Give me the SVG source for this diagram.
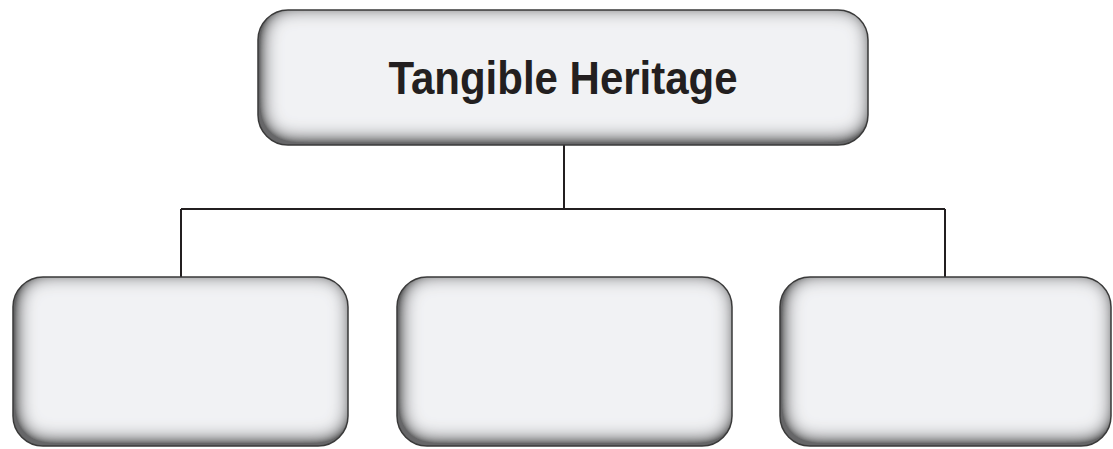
<svg xmlns="http://www.w3.org/2000/svg" width="1113" height="449" viewBox="0 0 1113 449">
<defs>
<filter id="inset" x="-10%" y="-15%" width="120%" height="130%">
<feComponentTransfer in="SourceAlpha" result="inv"><feFuncA type="table" tableValues="1 0"/></feComponentTransfer>
<feGaussianBlur in="inv" stdDeviation="10" result="blur"/>
<feOffset in="blur" dx="3" dy="-4" result="off"/>
<feComponentTransfer in="off" result="offs"><feFuncA type="linear" slope="1.8" intercept="0"/></feComponentTransfer>
<feFlood flood-color="#000" flood-opacity="0.85"/>
<feComposite in2="offs" operator="in" result="sh"/>
<feComposite in="sh" in2="SourceAlpha" operator="in" result="ish"/>
<feMerge><feMergeNode in="SourceGraphic"/><feMergeNode in="ish"/></feMerge>
</filter>
</defs>
<style>
.box{fill:#f1f2f4;filter:url(#inset)}
.edge{fill:none;stroke:#3a3a3a;stroke-width:1.5}
.conn{fill:none;stroke:#231f20;stroke-width:2}
.label{font-family:"Liberation Sans",Arial,sans-serif;font-weight:bold;font-size:42px;fill:#231f20;text-anchor:middle}
</style>
<rect width="1113" height="449" fill="#ffffff"/>
<g id="connectors">
<path class="conn" d="M564 145 V209 M181 209 H945 M181 209 V277 M945 209 V277"/>
</g>
<g id="node-top">
<rect class="box" x="258" y="10" width="610" height="135" rx="30"/>
<rect class="edge" x="258" y="10" width="610" height="135" rx="30"/>
<text class="label" x="563" y="94" transform="translate(563 94) scale(1 1.08) translate(-563 -94)">Tangible Heritage</text>
</g>
<g id="node-left">
<rect class="box" x="13" y="277" width="335" height="169" rx="30"/>
<rect class="edge" x="13" y="277" width="335" height="169" rx="30"/>
</g>
<g id="node-middle">
<rect class="box" x="397" y="277" width="335" height="169" rx="30"/>
<rect class="edge" x="397" y="277" width="335" height="169" rx="30"/>
</g>
<g id="node-right">
<rect class="box" x="780" y="277" width="331" height="169" rx="30"/>
<rect class="edge" x="780" y="277" width="331" height="169" rx="30"/>
</g>
</svg>
